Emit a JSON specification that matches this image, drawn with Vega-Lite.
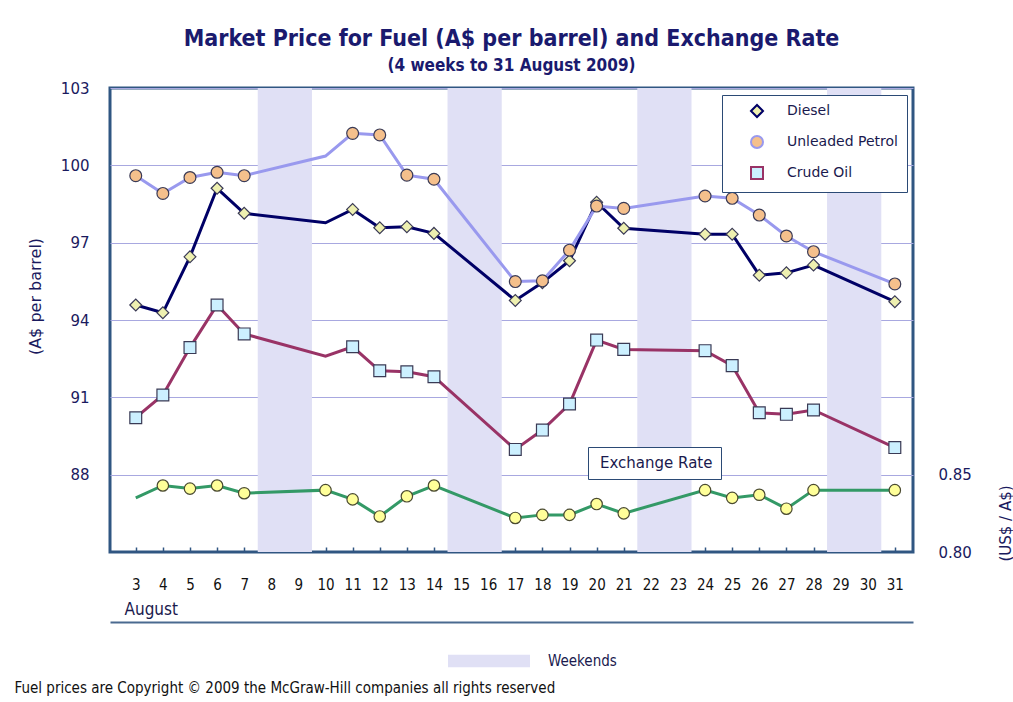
{
  "$schema": "https://vega.github.io/schema/vega-lite/v6.json",
  "width": 803,
  "height": 464,
  "autosize": {"type": "none"},
  "padding": {"left": 110, "top": 88, "right": 100, "bottom": 150},
  "background": "white",
  "config": {
    "view": {"stroke": "#305682", "strokeWidth": 3},
    "font": "DejaVu Sans"
  },
  "title": {
    "text": "Market Price for Fuel (A$ per barrel) and Exchange Rate",
    "subtitle": "(4 weeks to 31 August 2009)",
    "anchor": "middle",
    "font": "Liberation Sans Narrow, Arial Narrow, DejaVu Sans Condensed, Liberation Sans",
    "fontSize": 23,
    "fontWeight": "bold",
    "color": "#1a1a6e",
    "subtitleFont": "Liberation Sans Narrow, Arial Narrow, DejaVu Sans Condensed, Liberation Sans",
    "subtitleFontSize": 17,
    "subtitleFontWeight": "bold",
    "subtitleColor": "#1a1a6e",
    "subtitlePadding": 7,
    "offset": 7
  },
  "datasets": {
    "weekends": [
      {"start": 7.5, "end": 9.5, "kind": "Weekends"},
      {"start": 14.5, "end": 16.5, "kind": "Weekends"},
      {"start": 21.5, "end": 23.5, "kind": "Weekends"},
      {"start": 28.5, "end": 30.5, "kind": "Weekends"}
    ],
    "fuel": [
      {"day": 3, "series": "Diesel", "price": 94.58},
      {"day": 4, "series": "Diesel", "price": 94.28},
      {"day": 5, "series": "Diesel", "price": 96.45},
      {"day": 6, "series": "Diesel", "price": 99.11},
      {"day": 7, "series": "Diesel", "price": 98.14},
      {"day": 10, "series": "Diesel", "price": 97.77},
      {"day": 11, "series": "Diesel", "price": 98.29},
      {"day": 12, "series": "Diesel", "price": 97.58},
      {"day": 13, "series": "Diesel", "price": 97.62},
      {"day": 14, "series": "Diesel", "price": 97.36},
      {"day": 17, "series": "Diesel", "price": 94.76},
      {"day": 18, "series": "Diesel", "price": 95.45},
      {"day": 19, "series": "Diesel", "price": 96.3},
      {"day": 20, "series": "Diesel", "price": 98.57},
      {"day": 21, "series": "Diesel", "price": 97.56},
      {"day": 24, "series": "Diesel", "price": 97.33},
      {"day": 25, "series": "Diesel", "price": 97.33},
      {"day": 26, "series": "Diesel", "price": 95.74},
      {"day": 27, "series": "Diesel", "price": 95.83},
      {"day": 28, "series": "Diesel", "price": 96.13},
      {"day": 31, "series": "Diesel", "price": 94.71},
      {"day": 3, "series": "Unleaded Petrol", "price": 99.6},
      {"day": 4, "series": "Unleaded Petrol", "price": 98.91},
      {"day": 5, "series": "Unleaded Petrol", "price": 99.53},
      {"day": 6, "series": "Unleaded Petrol", "price": 99.73},
      {"day": 7, "series": "Unleaded Petrol", "price": 99.6},
      {"day": 10, "series": "Unleaded Petrol", "price": 100.36},
      {"day": 11, "series": "Unleaded Petrol", "price": 101.24},
      {"day": 12, "series": "Unleaded Petrol", "price": 101.18},
      {"day": 13, "series": "Unleaded Petrol", "price": 99.62},
      {"day": 14, "series": "Unleaded Petrol", "price": 99.46},
      {"day": 17, "series": "Unleaded Petrol", "price": 95.49},
      {"day": 18, "series": "Unleaded Petrol", "price": 95.52},
      {"day": 19, "series": "Unleaded Petrol", "price": 96.71},
      {"day": 20, "series": "Unleaded Petrol", "price": 98.42},
      {"day": 21, "series": "Unleaded Petrol", "price": 98.33},
      {"day": 24, "series": "Unleaded Petrol", "price": 98.81},
      {"day": 25, "series": "Unleaded Petrol", "price": 98.72},
      {"day": 26, "series": "Unleaded Petrol", "price": 98.07},
      {"day": 27, "series": "Unleaded Petrol", "price": 97.26},
      {"day": 28, "series": "Unleaded Petrol", "price": 96.65},
      {"day": 31, "series": "Unleaded Petrol", "price": 95.4},
      {"day": 3, "series": "Crude Oil", "price": 90.21},
      {"day": 4, "series": "Crude Oil", "price": 91.09},
      {"day": 5, "series": "Crude Oil", "price": 92.93},
      {"day": 6, "series": "Crude Oil", "price": 94.58},
      {"day": 7, "series": "Crude Oil", "price": 93.46},
      {"day": 10, "series": "Crude Oil", "price": 92.6},
      {"day": 11, "series": "Crude Oil", "price": 92.96},
      {"day": 12, "series": "Crude Oil", "price": 92.03},
      {"day": 13, "series": "Crude Oil", "price": 91.99},
      {"day": 14, "series": "Crude Oil", "price": 91.8},
      {"day": 17, "series": "Crude Oil", "price": 88.98},
      {"day": 18, "series": "Crude Oil", "price": 89.73},
      {"day": 19, "series": "Crude Oil", "price": 90.74},
      {"day": 20, "series": "Crude Oil", "price": 93.22},
      {"day": 21, "series": "Crude Oil", "price": 92.86},
      {"day": 24, "series": "Crude Oil", "price": 92.81},
      {"day": 25, "series": "Crude Oil", "price": 92.23},
      {"day": 26, "series": "Crude Oil", "price": 90.4},
      {"day": 27, "series": "Crude Oil", "price": 90.34},
      {"day": 28, "series": "Crude Oil", "price": 90.51},
      {"day": 31, "series": "Crude Oil", "price": 89.05}
    ],
    "fx": [
      {"day": 3, "rate": 0.835},
      {"day": 4, "rate": 0.843},
      {"day": 5, "rate": 0.841},
      {"day": 6, "rate": 0.843},
      {"day": 7, "rate": 0.838},
      {"day": 10, "rate": 0.84},
      {"day": 11, "rate": 0.834},
      {"day": 12, "rate": 0.823},
      {"day": 13, "rate": 0.836},
      {"day": 14, "rate": 0.843},
      {"day": 17, "rate": 0.822},
      {"day": 18, "rate": 0.824},
      {"day": 19, "rate": 0.824},
      {"day": 20, "rate": 0.831},
      {"day": 21, "rate": 0.825},
      {"day": 24, "rate": 0.84},
      {"day": 25, "rate": 0.835},
      {"day": 26, "rate": 0.837},
      {"day": 27, "rate": 0.828},
      {"day": 28, "rate": 0.84},
      {"day": 31, "rate": 0.84}
    ]
  },
  "layer": [
    {
      "data": {"name": "weekends"},
      "mark": {"type": "rect"},
      "encoding": {
        "x": {
          "field": "start", "type": "quantitative",
          "scale": {"domain": [2.05, 31.67], "nice": false, "zero": false},
          "axis": {
            "orient": "bottom",
            "values": [3,4,5,6,7,8,9,10,11,12,13,14,15,16,17,18,19,20,21,22,23,24,25,26,27,28,29,30,31],
            "format": "d",
            "grid": false,
            "domain": false,
            "ticks": true,
            "tickSize": -5,
            "tickColor": "#305682",
            "tickWidth": 1.5,
            "labelPadding": 30,
            "labelColor": "#111111",
            "labelFont": "Liberation Sans Narrow, Arial Narrow, DejaVu Sans Condensed, Liberation Sans",
            "labelFontSize": 15,
            "title": "August",
            "titleAnchor": "start",
            "titleAlign": "left",
            "titleBaseline": "alphabetic",
            "titleX": 14,
            "titleY": 62,
            "titleFont": "Liberation Sans Narrow, Arial Narrow, DejaVu Sans Condensed, Liberation Sans",
            "titleFontSize": 17,
            "titleFontWeight": "normal",
            "titleColor": "#1a1a4e"
          }
        },
        "x2": {"field": "end"},
        "fill": {
          "field": "kind", "type": "nominal",
          "scale": {"domain": ["Weekends"], "range": ["#e0e0f5"]},
          "legend": {
            "orient": "none",
            "legendX": 338,
            "legendY": 532,
            "title": null,
            "padding": 0,
            "symbolType": "M-1,-0.15H1V0.15H-1Z",
            "symbolSize": 6724,
            "symbolStrokeWidth": 0,
            "labelOffset": 18,
            "labelFont": "Liberation Sans Narrow, Arial Narrow, DejaVu Sans Condensed, Liberation Sans",
            "labelFontSize": 15,
            "labelColor": "#1a1a4e"
          }
        }
      }
    },
    {
      "data": {"name": "fuel"},
      "encoding": {
        "x": {
          "field": "day", "type": "quantitative",
          "scale": {"domain": [2.05, 31.67], "nice": false, "zero": false},
          "axis": null
        },
        "y": {
          "field": "price", "type": "quantitative",
          "scale": {"domain": [85, 103], "nice": false, "zero": false},
          "axis": {
            "orient": "left",
            "values": [88, 91, 94, 97, 100, 103],
            "grid": true,
            "gridColor": "#a8a8e0",
            "gridWidth": 1,
            "domain": false,
            "ticks": false,
            "labelPadding": 21,
            "labelColor": "#1a1a5e",
            "labelFont": "DejaVu Sans",
            "labelFontSize": 15,
            "title": "(A$ per barrel)",
            "titleColor": "#1a1a5e",
            "titleFont": "DejaVu Sans",
            "titleFontSize": 16,
            "titleFontWeight": "normal",
            "titleAngle": 270,
            "titleAlign": "center",
            "titleBaseline": "bottom",
            "titleX": -67,
            "titleY": 208
          }
        }
      },
      "layer": [
        {
          "mark": {"type": "line", "strokeWidth": 3},
          "encoding": {
            "color": {
              "field": "series", "type": "nominal",
              "scale": {"domain": ["Diesel", "Unleaded Petrol", "Crude Oil"], "range": ["#000066", "#9999ee", "#993366"]},
              "legend": {
                "orient": "none",
                "legendX": 612,
                "legendY": 7,
                "title": null,
                "strokeColor": "#2b4a75",
                "fillColor": "white",
                "padding": 9,
                "symbolOffset": 19,
                "symbolSize": 144,
                "symbolStrokeWidth": 2,
                "labelOffset": 23,
                "rowPadding": 11,
                "labelFont": "DejaVu Sans",
                "labelFontSize": 14,
                "labelColor": "#1a1a4e",
                "encode": {
                  "symbols": {
                    "update": {
                      "shape": {"signal": "datum.value === 'Diesel' ? 'M-3.5,0H-0.8M0.8,0H3.5M-0.8,0L0,-0.8L0.8,0L0,0.8Z' : datum.value === 'Unleaded Petrol' ? 'M-3.5,0H-0.8M0.8,0H3.5M0.8,0A0.8,0.8,0,1,1,-0.8,0A0.8,0.8,0,1,1,0.8,0Z' : 'M-3.5,0H-0.65M0.65,0H3.5M-0.65,-0.65H0.65V0.65H-0.65Z'"},
                      "fill": {"signal": "datum.value === 'Diesel' ? '#eef0b0' : datum.value === 'Unleaded Petrol' ? '#f5c08c' : '#ccf0ff'"}
                    }
                  }
                }
              }
            }
          }
        },
        {
          "transform": [{"filter": "datum.day != 10"}],
          "mark": {"type": "point", "filled": true, "size": 140, "stroke": "#3a3a55", "strokeWidth": 1.2, "opacity": 1},
          "encoding": {
            "shape": {
              "field": "series", "type": "nominal",
              "scale": {"domain": ["Diesel", "Unleaded Petrol", "Crude Oil"], "range": ["diamond", "circle", "square"]},
              "legend": null
            },
            "fill": {
              "field": "series", "type": "nominal",
              "scale": {"domain": ["Diesel", "Unleaded Petrol", "Crude Oil"], "range": ["#eef0b0", "#f5c08c", "#ccf0ff"]},
              "legend": null
            }
          }
        }
      ]
    },
    {
      "data": {"name": "fx"},
      "encoding": {
        "x": {
          "field": "day", "type": "quantitative",
          "scale": {"domain": [2.05, 31.67], "nice": false, "zero": false},
          "axis": {
            "orient": "bottom",
            "offset": 70,
            "labels": false,
            "ticks": false,
            "grid": false,
            "domain": true,
            "domainColor": "#4a6a90",
            "domainWidth": 2,
            "title": "Fuel prices are Copyright © 2009 the McGraw-Hill companies all rights reserved",
            "titleAnchor": "start",
            "titleAlign": "left",
            "titleBaseline": "alphabetic",
            "titleX": -96,
            "titleY": 70,
            "titleFont": "Liberation Sans Narrow, Arial Narrow, DejaVu Sans Condensed, Liberation Sans",
            "titleFontSize": 15,
            "titleFontWeight": "normal",
            "titleColor": "#111111"
          }
        },
        "y": {
          "field": "rate", "type": "quantitative",
          "scale": {"domain": [0.8, 1.1], "nice": false, "zero": false},
          "axis": {
            "orient": "right",
            "values": [0.8, 0.85],
            "format": ".2f",
            "grid": false,
            "domain": false,
            "ticks": false,
            "labelPadding": 25,
            "labelColor": "#1a1a5e",
            "labelFont": "DejaVu Sans",
            "labelFontSize": 15,
            "title": "(US$ / A$)",
            "titleColor": "#1a1a5e",
            "titleFont": "DejaVu Sans",
            "titleFontSize": 15,
            "titleFontWeight": "normal",
            "titleAngle": 270,
            "titleAlign": "center",
            "titleBaseline": "top",
            "titleX": 85,
            "titleY": 435
          }
        }
      },
      "layer": [
        {
          "mark": {"type": "line", "strokeWidth": 3},
          "encoding": {
            "color": {
              "datum": "Exchange Rate", "type": "nominal",
              "scale": {"domain": ["Exchange Rate"], "range": ["#339966"]},
              "legend": {
                "orient": "none",
                "legendX": 478,
                "legendY": 359,
                "title": null,
                "strokeColor": "#2b4a75",
                "fillColor": "white",
                "padding": 8,
                "symbolSize": 0,
                "symbolOpacity": 0,
                "symbolOffset": 0,
                "labelOffset": -11,
                "labelFont": "DejaVu Sans",
                "labelFontSize": 15,
                "labelColor": "#1a1a4e"
              }
            }
          }
        },
        {
          "transform": [{"filter": "datum.day != 3"}],
          "mark": {"type": "point", "shape": "circle", "filled": true, "size": 130, "fill": "#ffff99", "stroke": "#4a4a30", "strokeWidth": 1.2, "opacity": 1}
        }
      ]
    }
  ],
  "resolve": {
    "scale": {"y": "independent", "color": "independent", "fill": "independent", "shape": "independent"},
    "axis": {"x": "independent"}
  }
}
